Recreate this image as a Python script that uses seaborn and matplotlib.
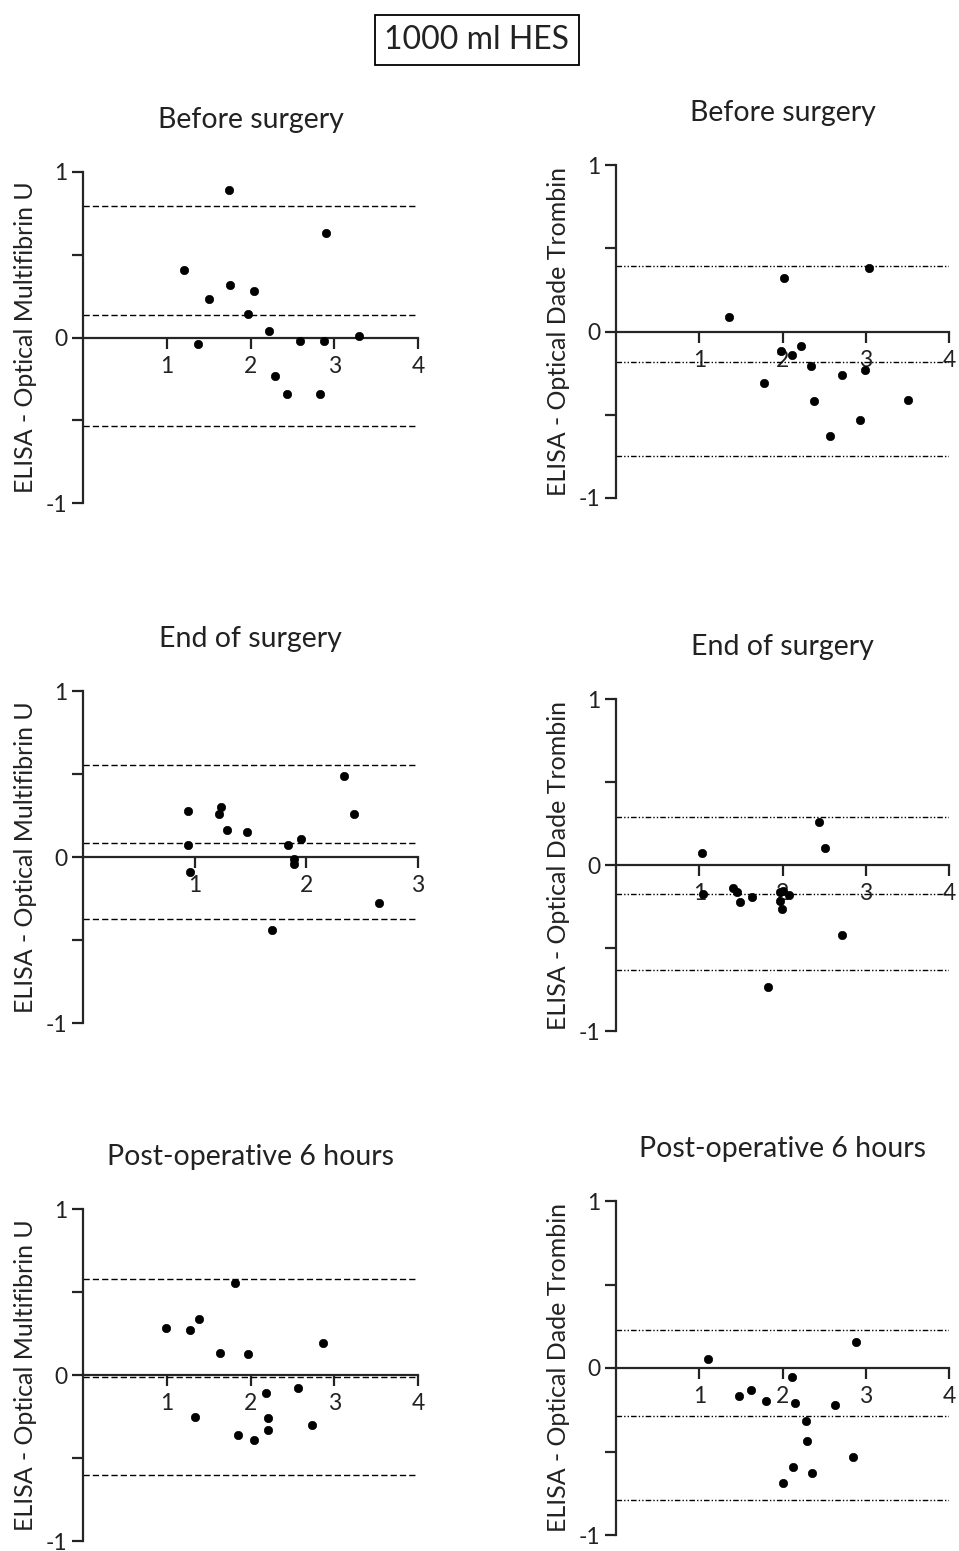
import matplotlib
matplotlib.use("Agg")
import matplotlib.pyplot as plt
import seaborn as sns
import pandas as pd

sns.set_style("ticks")
plt.rcParams['font.family'] = ['Lato', 'DejaVu Sans']

# ---------------- data ----------------
titles = ["Before surgery", "Before surgery", "End of surgery", "End of surgery",
          "Post-operative 6 hours", "Post-operative 6 hours"]
ylabels = ["ELISA - Optical Multifibrin U", "ELISA - Optical Dade Trombin"] * 3
xmax = [4, 4, 3, 4, 4, 4]

p1_x = [1.74, 2.90, 1.20, 1.75, 1.51, 2.04, 1.97, 2.22, 1.37, 2.59, 2.88, 3.29, 2.29, 2.43, 2.83]
p1_y = [0.89, 0.63, 0.41, 0.32, 0.23, 0.28, 0.14, 0.04, -0.04, -0.02, -0.02, 0.01, -0.23, -0.34, -0.34]

p2_x = [1.36, 2.02, 3.04, 1.98, 2.11, 2.22, 2.34, 1.78, 2.38, 2.71, 2.99, 2.57, 2.93, 3.51]
p2_y = [0.09, 0.32, 0.38, -0.12, -0.14, -0.09, -0.21, -0.31, -0.42, -0.26, -0.23, -0.63, -0.53, -0.41]

p3_x = [0.94, 0.94, 0.96, 1.24, 1.22, 1.29, 1.47, 1.84, 1.95, 1.89, 1.89, 1.69, 2.34, 2.43, 2.65]
p3_y = [0.28, 0.07, -0.09, 0.30, 0.26, 0.165, 0.15, 0.07, 0.11, -0.01, -0.04, -0.44, 0.49, 0.26, -0.28]

p4_x = [1.03, 1.05, 1.41, 1.45, 1.49, 1.63, 1.82, 1.97, 2.00, 1.97, 1.99, 2.08, 2.44, 2.51, 2.72]
p4_y = [0.07, -0.175, -0.14, -0.165, -0.22, -0.195, -0.735, -0.16, -0.155, -0.215, -0.265, -0.18, 0.26, 0.10, -0.42]

p5_x = [0.99, 1.28, 1.39, 1.63, 1.82, 1.97, 2.87, 1.34, 1.85, 2.04, 2.18, 2.21, 2.21, 2.57, 2.74]
p5_y = [0.286, 0.27, 0.336, 0.135, 0.557, 0.125, 0.195, -0.25, -0.36, -0.39, -0.107, -0.26, -0.33, -0.078, -0.30]

p6_x = [1.10, 1.48, 1.62, 1.80, 2.12, 2.15, 2.28, 2.29, 2.13, 2.01, 2.36, 2.63, 2.88, 2.85]
p6_y = [0.056, -0.17, -0.13, -0.20, -0.054, -0.21, -0.32, -0.44, -0.59, -0.69, -0.63, -0.22, 0.156, -0.53]

bias = [0.133, -0.184, 0.084, -0.175, -0.01, -0.285]
upper_loa = [0.795, 0.395, 0.552, 0.288, 0.58, 0.23]
lower_loa = [-0.533, -0.745, -0.373, -0.632, -0.60, -0.79]

xs = [p1_x, p2_x, p3_x, p4_x, p5_x, p6_x]
ys = [p1_y, p2_y, p3_y, p4_y, p5_y, p6_y]

# ---------------- layout ----------------
W, H = 959, 1551
fig = plt.figure(figsize=(W / 100, H / 100), dpi=100)

# pixel boxes: (left, right, top(y=1), bottom(y=-1))
boxes = [(83, 418, 172, 503), (616, 949, 165, 498),
         (83, 418, 691, 1023), (616, 949, 699, 1031),
         (83, 418, 1209, 1541), (616, 949, 1201, 1535)]

txt = '#222222'
for i in range(6):
    l, r, t, b = boxes[i]
    ax = fig.add_axes([l / W, (H - b) / H, (r - l) / W, (b - t) / H])
    df = pd.DataFrame({"mean": xs[i], "diff": ys[i]})
    sns.scatterplot(data=df, x="mean", y="diff", ax=ax, color="black",
                    s=36, marker="o", edgecolor="black", linewidth=0.5, zorder=3)
    left_panel = (i % 2 == 0)
    if left_panel:
        ls = (0, (4.5, 2.2))
    else:
        ls = (0, (4, 1.5, 1, 1.5, 1, 1.5))
    for v in (upper_loa[i], bias[i], lower_loa[i]):
        ax.axhline(v, color="black", lw=1.0, ls=ls, zorder=2)
    ax.set_xlim(0, xmax[i])
    ax.set_ylim(-1, 1)
    ax.spines['right'].set_visible(False)
    ax.spines['top'].set_visible(False)
    ax.spines['bottom'].set_position(('data', 0))
    ax.spines['left'].set_linewidth(1.6)
    ax.spines['bottom'].set_linewidth(1.6)
    ax.set_xticks(list(range(1, xmax[i] + 1)))
    ax.set_xticklabels([str(k) for k in range(1, xmax[i] + 1)])
    ax.set_yticks([-1, 0, 1])
    ax.set_yticklabels(["-1", "0", "1"])
    ax.set_yticks([-0.5, 0.5], minor=True)
    ax.tick_params(axis='x', direction='out', length=8, width=1.6, pad=5,
                   labelsize=16.5, colors=txt)
    ax.tick_params(axis='y', which='major', direction='out', length=8, width=1.6,
                   pad=3, labelsize=16.5, colors=txt)
    ax.tick_params(axis='y', which='minor', direction='out', length=8, width=1.6)
    ax.set_xlabel("")
    ax.set_ylabel(ylabels[i], fontsize=18, color=txt)
    ax.yaxis.set_label_coords(-0.138, 0.5)
    ax.set_title(titles[i], fontsize=20.5, pad=31.5, color=txt)
    ax.patch.set_alpha(0)

fig.text(477 / W, 1 - 40 / H, "1000 ml HES", ha='center', va='center', fontsize=23,
         color=txt,
         bbox=dict(boxstyle='square,pad=0.3', facecolor='white', edgecolor='black', lw=1.3))

fig.savefig("out.png", dpi=100)
